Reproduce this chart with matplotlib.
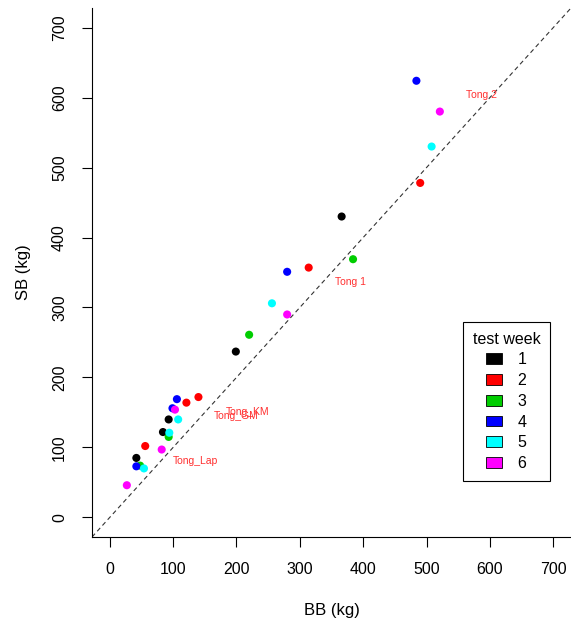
import matplotlib
matplotlib.use('Agg')
import matplotlib.pyplot as plt
from matplotlib.patches import Patch

# ── data ─────────────────────────────────────────────────────────────────────
WEEKS = ['1', '2', '3', '4', '5', '6']
COLORS = ['#000000', '#ff0000', '#00cd00', '#0000ff', '#00ffff', '#ff00ff']

bb_w1 = [42, 84, 93, 199, 366]
sb_w1 = [85, 122, 140, 237, 430]
bb_w2 = [56, 121, 140, 314, 490]
sb_w2 = [102, 164, 172, 357, 478]
bb_w3 = [48, 93, 220, 384]
sb_w3 = [74, 115, 261, 369]
bb_w4 = [42, 99, 106, 280, 484]
sb_w4 = [73, 156, 169, 351, 624]
bb_w5 = [54, 94, 108, 256, 508]
sb_w5 = [70, 121, 140, 306, 530]
bb_w6 = [27, 82, 103, 280, 521]
sb_w6 = [46, 97, 154, 290, 580]

BB = [bb_w1, bb_w2, bb_w3, bb_w4, bb_w5, bb_w6]
SB = [sb_w1, sb_w2, sb_w3, sb_w4, sb_w5, sb_w6]

NAMES = ['Tong 2', 'Tong 1', 'Tong_KM', 'Tong_GM', 'Tong_Lap']
NAME_X = [587, 380, 218, 199, 136]
NAME_Y = [604, 336, 151, 145, 81]

TICKS = [0, 100, 200, 300, 400, 500, 600, 700]

# ── figure ───────────────────────────────────────────────────────────────────
plt.rcParams['font.family'] = ['Liberation Sans', 'DejaVu Sans']

fig = plt.figure(figsize=(5.71, 6.28), dpi=100)
ax = fig.add_axes([92 / 571, 91 / 628, 479 / 571, 529 / 628])

lim = (-28, 728)
ax.plot(lim, lim, color='#333333', lw=0.8, dashes=(4, 3), zorder=1)

for bb, sb, c in zip(BB, SB, COLORS):
    ax.scatter(bb, sb, s=34, color=c, edgecolors='none', zorder=3)

for name, x, y in zip(NAMES, NAME_X, NAME_Y):
    ax.text(x, y, name, color='#ff3030', fontsize=7.5,
            ha='center', va='center', zorder=4)

ax.set_xlim(lim)
ax.set_ylim(lim)
ax.set_xticks(TICKS)
ax.set_yticks(TICKS)
ax.tick_params(direction='out', length=7, width=0.8, labelsize=11.5, pad=11)
for lbl in ax.get_yticklabels():
    lbl.set_rotation(90)
    lbl.set_va('center')
for side in ('top', 'right'):
    ax.spines[side].set_visible(False)
for side in ('left', 'bottom'):
    ax.spines[side].set_linewidth(0.8)

ax.set_xlabel('BB (kg)', fontsize=12, labelpad=19)
ax.set_ylabel('SB (kg)', fontsize=12, labelpad=15)

# ── legend ───────────────────────────────────────────────────────────────────
handles = [Patch(facecolor=c, edgecolor='black', lw=0.6) for c in COLORS]
leg = ax.legend(handles, WEEKS, title='test week', loc='upper left',
                bbox_to_anchor=(463 / 571, 1 - 322 / 628),
                bbox_transform=fig.transFigure,
                fontsize=11.5, title_fontsize=11.5,
                handlelength=0.95, handleheight=0.65, handletextpad=1.0,
                labelspacing=0.36, borderpad=0.6, borderaxespad=0,
                fancybox=False, framealpha=1, edgecolor='black')
leg.get_frame().set_linewidth(0.8)

fig.savefig('out.png', dpi=100)
